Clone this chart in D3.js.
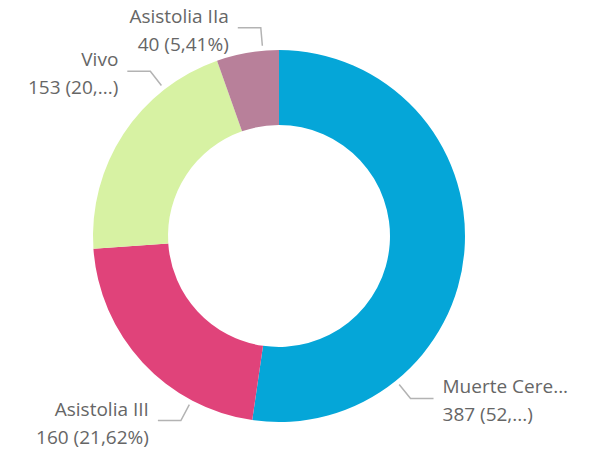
<!DOCTYPE html>
<html>
<head>
<meta charset="utf-8">
<script src="https://cdn.jsdelivr.net/npm/d3@7"></script>
<style>
  html, body { margin: 0; padding: 0; background: #ffffff; }
  svg text { font-family: "Segoe UI", "Open Sans", sans-serif; }
</style>
</head>
<body>
<div id="chart"></div>
<script>
// data (total 740)
const categories = ["Muerte Cerebral", "Asistolia III", "Vivo", "Asistolia IIa"];
const values = [387, 160, 153, 40];
const colors = ["#05A6D8", "#E0437A", "#D7F2A3", "#B8809A"];
// label texts as shown (Power BI truncates the long ones)
const nameLabels = ["Muerte Cere...", "Asistolia III", "Vivo", "Asistolia IIa"];
const valueLabels = ["387 (52,...)", "160 (21,62%)", "153 (20,...)", "40 (5,41%)"];

const width = 589;
const height = 453;
const cx = 279, cy = 236;
const outerRadius = 186;
const innerRadius = 111;
// where the leader line leaves each slice (degrees clockwise from 12 o'clock)
const leaderAngles = [141, 208, 322, 355];

const svg = d3.select("#chart")
    .append("svg")
    .attr("width", width)
    .attr("height", height);

const g = svg.append("g")
    .attr("transform", `translate(${cx},${cy})`);

const pie = d3.pie()
    .value((d, i) => values[i])
    .sort(null);

const arc = d3.arc()
    .innerRadius(innerRadius)
    .outerRadius(outerRadius);

const arcs = pie(categories);

g.selectAll("path.slice")
    .data(arcs)
    .enter()
    .append("path")
    .attr("class", "slice")
    .attr("d", arc)
    .attr("fill", (d, i) => colors[i]);

// leader lines and labels
function polar(angleDeg, r) {
    const a = angleDeg * Math.PI / 180;
    return [Math.sin(a) * r, -Math.cos(a) * r];
}

const labels = g.selectAll("g.label")
    .data(arcs)
    .enter()
    .append("g")
    .attr("class", "label");

labels.each(function (d, i) {
    const sel = d3.select(this);
    const ang = leaderAngles[i];
    // keep the leader inside its slice
    const startDeg = d.startAngle * 180 / Math.PI, endDeg = d.endAngle * 180 / Math.PI;
    const a = Math.max(startDeg + 1, Math.min(endDeg - 1, ang));
    const p0 = polar(a, outerRadius + 5);
    const p1 = polar(a, outerRadius + 23);
    const right = a < 180;
    const p2 = [p1[0] + (right ? 23 : -23), p1[1]];

    sel.append("polyline")
        .attr("points", [p0, p1, p2].map(p => p.join(",")).join(" "))
        .attr("fill", "none")
        .attr("stroke", "#B3B3B3")
        .attr("stroke-width", 1.5);

    const tx = p2[0] + (right ? 9 : -9);
    const text = sel.append("text")
        .attr("text-anchor", right ? "start" : "end")
        .attr("fill", "#666666")
        .attr("font-size", "19px");
    text.append("tspan")
        .attr("x", tx)
        .attr("y", p1[1] - 5)
        .text(nameLabels[i]);
    text.append("tspan")
        .attr("x", tx)
        .attr("y", p1[1] + 23)
        .text(valueLabels[i]);
});
</script>
</body>
</html>
